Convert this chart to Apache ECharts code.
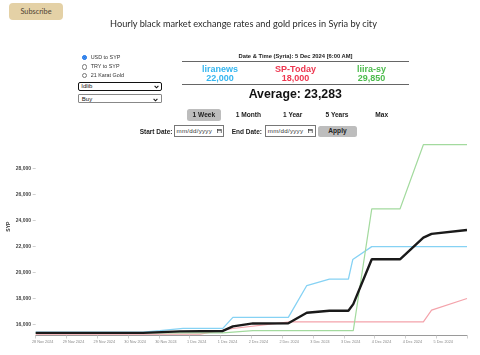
<!DOCTYPE html>
<html><head><meta charset="utf-8">
<script src="https://cdn.jsdelivr.net/npm/echarts@6/dist/echarts.min.js"></script>
<style>
html,body{margin:0;padding:0;width:480px;height:355px;overflow:hidden;background:#fff;font-family:'Liberation Sans',Arial,sans-serif;color:#222;}
#chart{position:absolute;left:0;top:0;width:480px;height:355px;z-index:0;}
.ab{position:absolute;white-space:nowrap;z-index:1;}
.c{text-align:center;}
.radio{position:absolute;width:3.4px;height:3.4px;border:0.7px solid #777;border-radius:50%;background:#fff;z-index:1;}
.radio.on{border-color:#1a73e8;background:#1a73e8;box-shadow:inset 0 0 0 0.6px #6aa6f0;}
.rlab{font-size:5.4px;color:#333;}
.sel{position:absolute;box-sizing:border-box;background:#fff;z-index:1;font-size:6px;color:#111;}
.btn{position:absolute;box-sizing:border-box;background:#bdbdbd;border-radius:2.5px;font-weight:bold;font-size:6.6px;z-index:1;text-align:center;}
.inp{position:absolute;box-sizing:border-box;border:0.8px solid #777;background:#fff;z-index:1;font-size:6.2px;color:#333;}
.src{font-size:9px;font-weight:bold;line-height:10px;}
</style></head>
<body>
<div id="chart"></div>

<div class="ab c" style="left:9px;top:3px;width:54px;height:17px;line-height:17px;background:#e4d1a6;border-radius:4px;font-family:Lato,sans-serif;font-size:7.3px;color:#4f4233;">Subscribe</div>
<div class="ab c" style="left:0;top:18px;width:487px;line-height:12px;font-family:Lato,sans-serif;font-weight:400;font-size:9.2px;color:#2a2a2a;">Hourly black market exchange rates and gold prices in Syria by city</div>

<div class="radio on" style="left:81.6px;top:54.9px;"></div>
<div class="ab rlab" style="left:90.7px;top:54px;line-height:7px;">USD to SYP</div>
<div class="radio" style="left:81.6px;top:64.3px;"></div>
<div class="ab rlab" style="left:90.7px;top:63.3px;line-height:7px;">TRY to SYP</div>
<div class="radio" style="left:81.6px;top:72.9px;"></div>
<div class="ab rlab" style="left:90.7px;top:71.9px;line-height:7px;">21 Karat Gold</div>

<div class="sel" style="left:78.3px;top:81.7px;width:83.4px;height:9.4px;border:1.3px solid #111;border-radius:2px;">
  <span style="position:absolute;left:2px;top:0;line-height:7px;color:#111;">Idlib</span>
  <svg style="position:absolute;right:2px;top:2px;" width="5" height="4" viewBox="0 0 5 4"><polyline points="0.6,0.8 2.5,2.8 4.4,0.8" fill="none" stroke="#111" stroke-width="1.1"/></svg>
</div>
<div class="sel" style="left:78.3px;top:94px;width:83.4px;height:9.4px;border:0.8px solid #888;border-radius:1px;">
  <span style="position:absolute;left:2.5px;top:0.5px;line-height:7px;color:#111;">Buy</span>
  <svg style="position:absolute;right:2.5px;top:2.5px;" width="5" height="4" viewBox="0 0 5 4"><polyline points="0.6,0.8 2.5,2.8 4.4,0.8" fill="none" stroke="#111" stroke-width="1.1"/></svg>
</div>

<div class="ab c" style="left:195.5px;top:52px;width:200px;line-height:8px;font-size:5.8px;font-weight:bold;">Date &amp; Time (Syria): 5 Dec 2024 [6:00 AM]</div>
<div class="ab" style="left:182px;top:61.3px;width:227px;height:0;border-top:0.8px solid #666;"></div>
<div class="ab" style="left:182px;top:83.9px;width:227px;height:0;border-top:0.8px solid #666;"></div>

<div class="ab c src" style="left:180px;top:64px;width:80px;color:#35b6f0;">liranews</div>
<div class="ab c src" style="left:180px;top:73.3px;width:80px;color:#35b6f0;">22,000</div>
<div class="ab c src" style="left:255.5px;top:64px;width:80px;color:#ee3750;">SP-Today</div>
<div class="ab c src" style="left:255.5px;top:73.3px;width:80px;color:#ee3750;">18,000</div>
<div class="ab c src" style="left:331.5px;top:64px;width:80px;color:#4cbb4c;">liira-sy</div>
<div class="ab c src" style="left:331.5px;top:73.3px;width:80px;color:#4cbb4c;">29,850</div>

<div class="ab c" style="left:195.3px;top:87.3px;width:200px;line-height:14px;font-size:12.3px;font-weight:bold;color:#111;">Average: 23,283</div>

<div class="btn" style="left:186.7px;top:109px;width:34.3px;height:11.7px;line-height:11.7px;">1 Week</div>
<div class="ab c" style="left:223.3px;top:109px;width:50px;line-height:11.7px;font-size:6.6px;font-weight:bold;">1 Month</div>
<div class="ab c" style="left:267.7px;top:109px;width:50px;line-height:11.7px;font-size:6.6px;font-weight:bold;">1 Year</div>
<div class="ab c" style="left:312px;top:109px;width:50px;line-height:11.7px;font-size:6.6px;font-weight:bold;">5 Years</div>
<div class="ab c" style="left:356.7px;top:109px;width:50px;line-height:11.7px;font-size:6.6px;font-weight:bold;">Max</div>

<div class="ab" style="right:307.5px;top:126.5px;line-height:10px;font-size:6.5px;font-weight:bold;">Start Date:</div>
<div class="inp" style="left:174px;top:125.3px;width:50.3px;height:11.4px;">
  <span style="position:absolute;left:1.5px;top:1.2px;line-height:8px;letter-spacing:0.25px;">mm/dd/yyyy</span>
  <svg style="position:absolute;right:1.8px;top:2.6px;" width="4.6" height="4.6" viewBox="0 0 5 5"><rect x="0.4" y="0.7" width="4.2" height="3.9" fill="none" stroke="#333" stroke-width="0.7"/><line x1="0.4" y1="1.7" x2="4.6" y2="1.7" stroke="#333" stroke-width="0.7"/></svg>
</div>
<div class="ab" style="left:231.7px;top:126.5px;line-height:10px;font-size:6.5px;font-weight:bold;">End Date:</div>
<div class="inp" style="left:265.3px;top:125.3px;width:50.3px;height:11.4px;">
  <span style="position:absolute;left:1.5px;top:1.2px;line-height:8px;letter-spacing:0.25px;">mm/dd/yyyy</span>
  <svg style="position:absolute;right:1.8px;top:2.6px;" width="4.6" height="4.6" viewBox="0 0 5 5"><rect x="0.4" y="0.7" width="4.2" height="3.9" fill="none" stroke="#333" stroke-width="0.7"/><line x1="0.4" y1="1.7" x2="4.6" y2="1.7" stroke="#333" stroke-width="0.7"/></svg>
</div>
<div class="btn" style="left:318.3px;top:126px;width:38.4px;height:10.7px;line-height:10.7px;">Apply</div>

<script>
// ---- data (x in hours since the first tick) ----
const xTickLabels = ['28 Nov 2024','29 Nov 2024','29 Nov 2024','30 Nov 2024','30 Nov 2024','1 Dec 2024','1 Dec 2024','2 Dec 2024','2 Dec 2024','3 Dec 2024','3 Dec 2024','4 Dec 2024','4 Dec 2024','5 Dec 2024',''];
const yTickValues = [16000, 18000, 20000, 22000, 24000, 26000, 28000];

const liranewsHours  = [0, 41.8, 48.4, 57.4, 72.9, 76.8, 98.4, 105.6, 114.4, 121.8, 123.5, 130.9, 168];
const liranewsValues = [15400, 15400, 15520, 15700, 15700, 16550, 16550, 19000, 19500, 19500, 21000, 22000, 22000];

const spTodayHours  = [0, 64.0, 76.8, 99.0, 151.0, 154.2, 168];
const spTodayValues = [15250, 15250, 15690, 16200, 16200, 17100, 18000];

const liiraHours  = [0, 72.9, 84.6, 123.7, 130.9, 141.9, 151.0, 168];
const liiraValues = [15350, 15350, 15520, 15520, 24900, 24900, 29850, 29850];

const averageHours  = [0, 41.8, 56.2, 72.9, 76.8, 84.6, 98.4, 105.6, 114.4, 121.8, 123.7, 130.9, 141.9, 151.0, 154.2, 168];
const averageValues = [15350, 15350, 15470, 15500, 15850, 16080, 16090, 16900, 17060, 17060, 17570, 21020, 21020, 22690, 22980, 23283];

function pairs(xs, ys) { return xs.map((x, i) => [x, ys[i]]); }

const chart = echarts.init(document.getElementById('chart'), null, {renderer: 'canvas'});
const lineBase = {type: 'line', showSymbol: false, symbol: 'none', silent: true};
chart.setOption({
  animation: false,
  grid: {left: 35.7, right: 13, top: 144.7, bottom: 19.5, containLabel: false},
  xAxis: {
    type: 'value', min: 0, max: 168, interval: 12,
    axisLine: {show: true, lineStyle: {color: '#9a9a9a', width: 1}},
    axisTick: {show: true, length: 3, lineStyle: {color: '#c4c4c4', width: 0.8}},
    splitLine: {show: false},
    axisLabel: {
      formatter: v => xTickLabels[Math.round(v / 12)] || '',
      fontSize: 3.8, color: '#8a8a8a', margin: 4.5, padding: [0, 0, 0, 14],
      fontFamily: 'Liberation Sans'
    }
  },
  yAxis: {
    type: 'value', min: 15150, max: 29850,
    axisLine: {show: false},
    splitLine: {show: false},
    axisTick: {show: true, length: 3, customValues: yTickValues, lineStyle: {color: '#c4c4c4', width: 0.8}},
    axisLabel: {
      customValues: yTickValues,
      formatter: v => Number(v).toLocaleString('en-US'),
      fontSize: 5, fontWeight: 'bold', color: '#444', margin: 4.7,
      fontFamily: 'Liberation Sans'
    }
  },
  graphic: [{
    type: 'text', x: 8.3, y: 226.7, rotation: Math.PI / 2,
    style: {text: 'SYP', fontSize: 5, fontWeight: 'bold', fill: '#333', align: 'center', verticalAlign: 'middle', fontFamily: 'Liberation Sans'}
  }],
  series: [
    Object.assign({}, lineBase, {name: 'liranews', data: pairs(liranewsHours, liranewsValues), lineStyle: {color: '#86d2f4', width: 1.3}, itemStyle: {color: '#86d2f4'}}),
    Object.assign({}, lineBase, {name: 'SP-Today', data: pairs(spTodayHours, spTodayValues), lineStyle: {color: '#f4a3ab', width: 1.2}, itemStyle: {color: '#f4a3ab'}}),
    Object.assign({}, lineBase, {name: 'liira-sy', data: pairs(liiraHours, liiraValues), lineStyle: {color: '#a3da9e', width: 1.2}, itemStyle: {color: '#a3da9e'}}),
    Object.assign({}, lineBase, {name: 'Average', data: pairs(averageHours, averageValues), lineStyle: {color: '#1a1a1a', width: 2.4}, itemStyle: {color: '#1a1a1a'}, z: 5})
  ]
});
</script>
</body></html>
